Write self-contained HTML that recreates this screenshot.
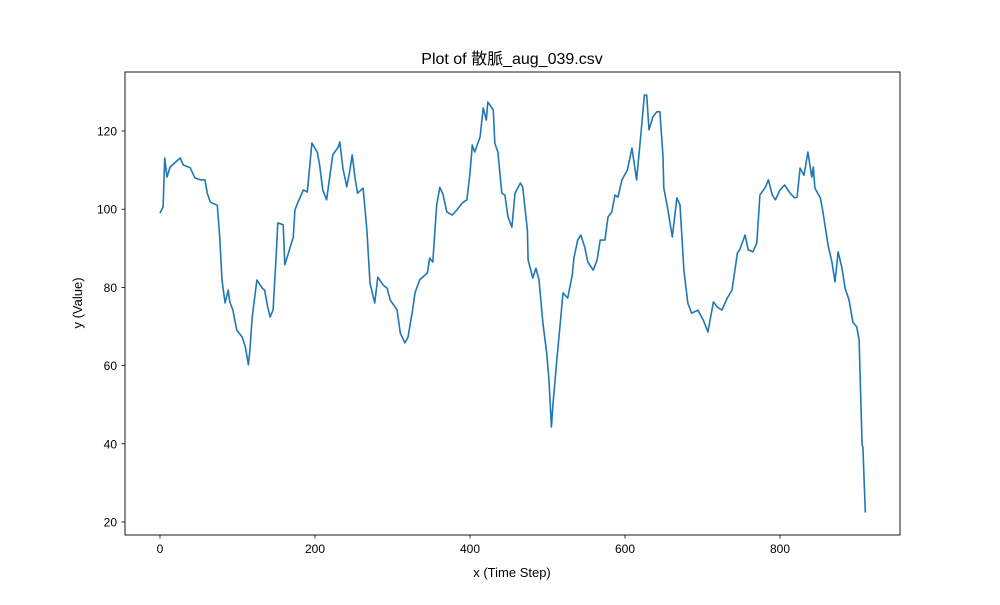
<!DOCTYPE html>
<html><head><meta charset="utf-8"><style>
html,body{margin:0;padding:0;background:#fff}
svg text{font-family:"Liberation Sans","Noto Sans CJK SC",sans-serif;fill:#000}
</style></head><body>
<svg id="chart" width="1000" height="600" xmlns="http://www.w3.org/2000/svg">
<rect width="1000" height="600" fill="#fff"/>
<text x="512" y="64" font-size="16" text-anchor="middle">Plot of 散脈_aug_039.csv</text>
<g id="plot"></g>
<rect x="125" y="72" width="775" height="463" fill="none" stroke="#000" stroke-width="0.9"/>
<text x="512" y="577" font-size="13" text-anchor="middle">x (Time Step)</text>
<text transform="translate(82,303) rotate(-90)" font-size="13" text-anchor="middle">y (Value)</text>
</svg>
<script>
const xs=[0,4,6,9,13,26,30,39,45,52,58,61,65,74,77,80,84,88,90,94,99,106,110,114,116,119,125,132,135,139,142,146,150,152,159,161,165,172,174,178,185,190,196,203,206,210,215,219,223,230,232,236,241,245,248,252,255,262,267,271,277,281,288,293,297,306,310,316,320,326,329,335,345,348,352,357,361,365,370,377,383,390,396,400,403,406,413,417,421,423,430,432,436,441,445,449,454,458,465,468,474,475,481,485,489,494,499,502,505,507,512,516,520,526,532,534,539,543,548,552,559,564,568,574,578,583,587,591,596,603,609,615,621,625,628,631,636,641,645,649,650,655,661,667,671,676,681,686,694,701,707,714,719,725,732,738,745,748,755,759,765,770,774,781,785,790,794,800,806,813,819,822,826,831,836,841,843,845,852,855,862,867,871,875,880,884,889,894,899,902,906,907,910];
const ys=[99.0,100.6,113.1,108.2,110.8,113.1,111.3,110.6,108.0,107.5,107.5,104.1,101.8,101.0,92.9,81.9,76.0,79.3,76.3,74.2,69.1,67.3,64.8,60.2,64.0,72.4,81.9,79.8,79.3,75.0,72.4,74.2,88.8,96.5,96.0,85.8,88.3,92.9,99.8,101.8,104.9,104.4,116.9,114.6,111.3,104.9,102.4,108.2,113.9,115.9,117.2,110.5,105.7,110.0,113.9,107.5,104.1,105.4,94.6,81.1,76.0,82.6,80.6,79.8,76.8,74.2,68.3,65.8,67.3,74.2,78.6,81.9,83.7,87.5,86.5,101.1,105.6,103.9,99.3,98.5,99.8,101.6,102.4,109.2,116.4,114.6,118.5,125.9,122.8,127.4,125.4,116.9,114.6,104.1,103.6,98.0,95.4,104.1,106.7,105.7,94.6,87.0,82.4,84.9,81.9,70.9,63.2,56.3,44.3,49.9,61.4,69.9,78.6,77.3,83.2,87.5,92.1,93.4,90.3,86.5,84.4,87.0,92.1,92.1,98.0,99.3,103.6,103.1,107.5,110.0,115.6,107.5,120.3,129.2,129.2,120.3,123.6,124.9,124.9,113.4,105.4,100.3,92.9,102.9,101.1,84.4,76.0,73.4,74.2,71.6,68.6,76.3,75.0,74.2,77.3,79.3,88.8,89.6,93.4,89.6,89.1,91.3,103.6,105.6,107.5,103.6,102.4,104.9,106.2,104.1,102.9,103.1,110.5,108.7,114.6,108.2,110.8,105.4,102.9,99.8,90.8,86.5,81.4,89.1,84.9,79.8,76.8,71.1,69.9,66.6,39.7,39.2,22.4];
const xTicks=[0,200,400,600,800];
const yTicks=[20,40,60,80,100,120];
const NS='http://www.w3.org/2000/svg';
const X=v=>160+v*0.775;
const Y=v=>600.2-v*3.91;
const g=document.getElementById('plot');
function mk(t,a){const e=document.createElementNS(NS,t);for(const k in a)e.setAttribute(k,a[k]);return e;}
xTicks.forEach(t=>{
  const l=mk('line',{x1:X(t),x2:X(t),y1:535,y2:538.5,stroke:'#000','stroke-width':0.8});
  
  
  g.appendChild(l);
  const tx=mk('text',{x:X(t),y:553,'font-size':12,'text-anchor':'middle'});
  
  
  tx.textContent=t;g.appendChild(tx);
});
yTicks.forEach(t=>{
  const l=mk('line',{x1:121.5,x2:125,y1:Y(t),y2:Y(t),stroke:'#000','stroke-width':0.8});
  
  
  g.appendChild(l);
  const tx=mk('text',{x:117,y:Y(t)+4.5,'font-size':12,'text-anchor':'end'});
  
  
  tx.textContent=t;g.appendChild(tx);
});
const d=xs.map((v,i)=>(i?'L':'M')+X(v).toFixed(1)+','+Y(ys[i]).toFixed(1)).join('');
const p=mk('path',{d:d,fill:'none',stroke:'#1f77b4','stroke-width':1.6,'stroke-linejoin':'round'});


g.appendChild(p);
</script>
</body></html>
